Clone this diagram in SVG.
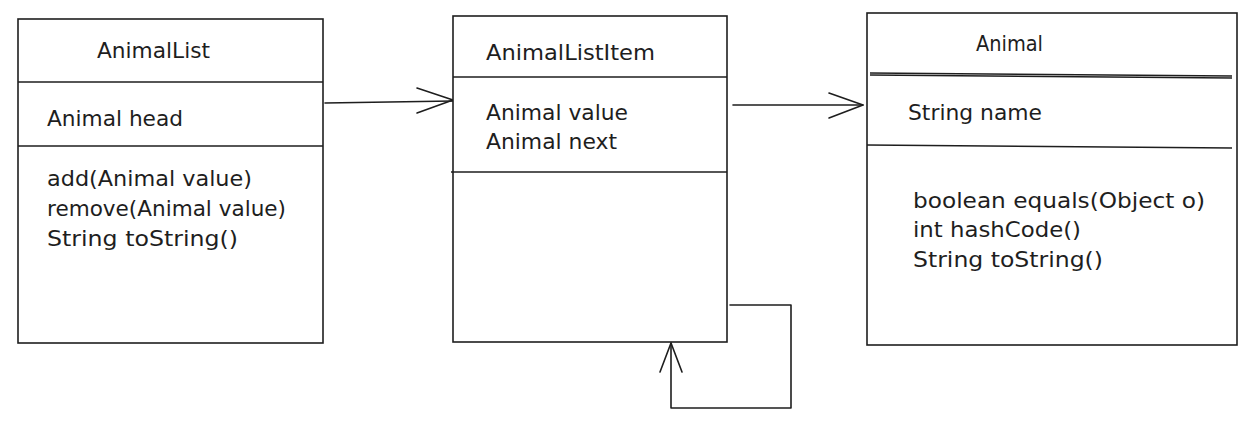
<svg xmlns="http://www.w3.org/2000/svg" width="1259" height="428" viewBox="0 0 1259 428">
<style>
  .box { fill: #ffffff; stroke: #1e1e1e; stroke-width: 1.6; }
  .div { stroke: #1e1e1e; stroke-width: 1.6; fill: none; }
  .t { font-family: "DejaVu Sans", "Liberation Sans", sans-serif; font-size: 21px; fill: #1e1e1e; }
  .c { stroke: #1e1e1e; stroke-width: 1.6; fill: none; stroke-linecap: round; stroke-linejoin: round; }
</style>
<rect width="1259" height="428" fill="#ffffff"/>
<g id="connectors">
  <path class="c" d="M325 103 L453 101"/>
  <path class="c" d="M417 88 L453 100 L417 113"/>
  <path class="c" d="M733 105 L863 105"/>
  <path class="c" d="M829 93 L863 105 L829 118"/>
  <path class="c" d="M730 305 L791 305 L791 408 L671 408 L671 343"/>
  <path class="c" d="M660 372 L671 343 L682 372"/>
</g>
<g id="AnimalList">
  <rect class="box" x="18" y="19" width="305" height="324"/>
  <line class="div" x1="18" y1="82" x2="323" y2="82"/>
  <line class="div" x1="18" y1="146" x2="323" y2="146"/>
  <text class="t" x="97" y="58" textLength="113" lengthAdjust="spacingAndGlyphs">AnimalList</text>
  <text class="t" x="47" y="126" textLength="136" lengthAdjust="spacingAndGlyphs">Animal head</text>
  <text class="t" x="47" y="186" textLength="205" lengthAdjust="spacingAndGlyphs">add(Animal value)</text>
  <text class="t" x="47" y="216" textLength="239" lengthAdjust="spacingAndGlyphs">remove(Animal value)</text>
  <text class="t" x="47" y="246" textLength="191" lengthAdjust="spacingAndGlyphs">String toString()</text>
</g>
<g id="AnimalListItem">
  <rect class="box" x="453" y="16" width="274" height="326"/>
  <line class="div" x1="453" y1="77" x2="727" y2="77"/>
  <line class="div" x1="451" y1="172" x2="727" y2="172"/>
  <text class="t" x="486" y="60" textLength="169" lengthAdjust="spacingAndGlyphs">AnimalListItem</text>
  <text class="t" x="486" y="120" textLength="142" lengthAdjust="spacingAndGlyphs">Animal value</text>
  <text class="t" x="486" y="149" textLength="131" lengthAdjust="spacingAndGlyphs">Animal next</text>
</g>
<g id="Animal">
  <rect class="box" x="867" y="13" width="370" height="332"/>
  <line class="div" x1="870" y1="73" x2="1232" y2="76"/>
  <line class="div" x1="870" y1="75" x2="1232" y2="78"/>
  <line class="div" x1="867" y1="145" x2="1232" y2="148"/>
  <text class="t" x="976" y="51" textLength="67" lengthAdjust="spacingAndGlyphs">Animal</text>
  <text class="t" x="908" y="120" textLength="134" lengthAdjust="spacingAndGlyphs">String name</text>
  <text class="t" x="913" y="208" textLength="292" lengthAdjust="spacingAndGlyphs">boolean equals(Object o)</text>
  <text class="t" x="913" y="237" textLength="168" lengthAdjust="spacingAndGlyphs">int hashCode()</text>
  <text class="t" x="913" y="267" textLength="190" lengthAdjust="spacingAndGlyphs">String toString()</text>
</g>
</svg>
